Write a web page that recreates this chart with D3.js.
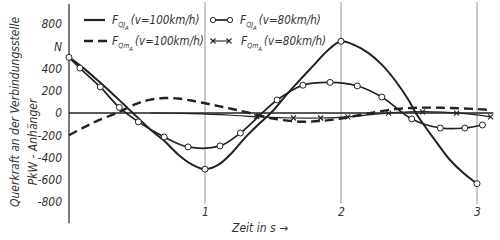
<!DOCTYPE html>
<html>
<head>
<meta charset="utf-8">
<script src="https://cdn.jsdelivr.net/npm/d3@7"></script>
<style>
  body { margin: 0; background: #fff; }
  svg { display: block; }
  text { font-family: "DejaVu Sans Condensed", "Liberation Sans Narrow", sans-serif; font-style: italic; fill: #333; }
</style>
</head>
<body>
<svg id="chart" width="500" height="240"></svg>
<script>
// F_QJA, v = 100 km/h (thick solid)
var qj100 = [
  [0, 500], [0.1, 410], [0.2, 305], [0.3, 195], [0.4, 80], [0.47, 0], [0.6, -150],
  [0.7, -250], [0.8, -370], [0.9, -460], [1.0, -505], [1.1, -465], [1.2, -355],
  [1.3, -215], [1.4, -95], [1.5, 20], [1.6, 165], [1.7, 300], [1.8, 430],
  [1.9, 560], [2.0, 645], [2.1, 610], [2.2, 540], [2.3, 435], [2.4, 290],
  [2.5, 110], [2.55, 0], [2.6, -90], [2.7, -260], [2.8, -420], [2.9, -540], [3.0, -635]
];
var qj100Marks = [1, 2, 3];

// F_QJA, v = 80 km/h (solid with circles)
var qj80 = [
  [0, 500], [0.08, 404], [0.23, 234], [0.37, 50], [0.51, -80], [0.7, -216],
  [0.875, -305], [1.11, -296], [1.26, -180], [1.53, 117], [1.72, 250],
  [1.92, 275], [2.12, 243], [2.3, 144], [2.52, -54], [2.73, -135],
  [2.91, -135], [3.04, -108]
];

// F_QmA, v = 100 km/h (dashed)
var qm100 = [
  [0, -200], [0.1, -135], [0.2, -75], [0.35, 0], [0.5, 85], [0.6, 120],
  [0.7, 135], [0.8, 130], [0.9, 112], [1.0, 88], [1.1, 62], [1.2, 36],
  [1.33, 0], [1.5, -50], [1.7, -78], [1.85, -72], [2.0, -50], [2.2, -5],
  [2.4, 35], [2.6, 48], [2.8, 45], [3.0, 35], [3.08, 28]
];

// F_QmA, v = 80 km/h (thin solid with crosses)
var qm80 = [
  [0.6, 0], [0.9, -5], [1.2, -20], [1.4, -35], [1.65, -45], [1.85, -45],
  [2.05, -35], [2.3, -5], [2.5, 10], [2.75, 8], [2.95, -10], [3.1, -35]
];
var qm80Marks = [1.38, 1.65, 1.85, 2.05, 2.35, 2.6, 2.85, 3.1];

var yTicks = [800, 600, 400, 200, 0, -200, -400, -600, -800];
var yTickLabels = ["800", "N", "400", "200", "0", "-200", "-400", "-600", "-800"];
var xTicks = [1, 2, 3];

var svg = d3.select("#chart");
var x = d3.scaleLinear().domain([0, 3]).range([69, 477]);
var y = d3.scaleLinear().domain([-800, 800]).range([202, 24]);
var ink = "#222";

// grid lines at full seconds
svg.selectAll(".vgrid").data(xTicks).enter().append("line")
  .attr("x1", d => x(d)).attr("x2", d => x(d))
  .attr("y1", y(1000)).attr("y2", y(-815))
  .attr("stroke", "#777").attr("stroke-width", 0.8);

// zero line and y axis line
svg.append("line").attr("x1", x(0)).attr("x2", x(3.12)).attr("y1", y(0)).attr("y2", y(0))
  .attr("stroke", ink).attr("stroke-width", 1.3);
svg.append("line").attr("x1", x(0)).attr("x2", x(0)).attr("y1", y(980)).attr("y2", y(-990))
  .attr("stroke", ink).attr("stroke-width", 1.2);

// y axis labels
var yAxis = d3.axisLeft(y).tickValues(yTicks).tickSize(0).tickPadding(7)
  .tickFormat((d, i) => yTickLabels[i]);
var ya = svg.append("g").attr("transform", "translate(" + x(0) + ",0)").call(yAxis);
ya.select(".domain").remove();
ya.selectAll("text").attr("font-size", 12).attr("font-family", null).attr("fill", "#444");

// x axis labels
var xAxis = d3.axisBottom(x).tickValues(xTicks).tickSize(0).tickPadding(0).tickFormat(d3.format("d"));
var xa = svg.append("g").attr("transform", "translate(0,207)").call(xAxis);
xa.select(".domain").remove();
xa.selectAll("text").attr("font-size", 12).attr("font-family", null).attr("fill", "#444");

// axis titles
svg.append("text").attr("transform", "translate(19,112) rotate(-90)")
  .attr("text-anchor", "middle").attr("font-size", 12).attr("fill", "#444")
  .text("Querkraft an der Verbindungsstelle");
svg.append("text").attr("transform", "translate(37,142) rotate(-90)")
  .attr("text-anchor", "middle").attr("font-size", 12).attr("fill", "#444")
  .text("PkW - Anhänger");
svg.append("text").attr("x", 232).attr("y", 232).attr("font-size", 12).attr("fill", "#444")
  .text("Zeit in s \u2192");

var line = d3.line().x(d => x(d[0])).y(d => y(d[1])).curve(d3.curveCatmullRom.alpha(0.5));

svg.append("path").datum(qm100).attr("d", line).attr("fill", "none")
  .attr("stroke", ink).attr("stroke-width", 2.4).attr("stroke-dasharray", "9,5");
svg.append("path").datum(qm80).attr("d", line).attr("fill", "none")
  .attr("stroke", ink).attr("stroke-width", 1.2);
svg.append("path").datum(qj100).attr("d", line).attr("fill", "none")
  .attr("stroke", ink).attr("stroke-width", 2);
svg.append("path").datum(qj80).attr("d", line).attr("fill", "none")
  .attr("stroke", ink).attr("stroke-width", 1.7);

// crosses on the v=80 mass curve
var qm80Interp = t => {
  for (var i = 1; i < qm80.length; i++) {
    if (t <= qm80[i][0]) {
      var a = qm80[i - 1], b = qm80[i], f = (t - a[0]) / (b[0] - a[0]);
      return a[1] + f * (b[1] - a[1]);
    }
  }
  return qm80[qm80.length - 1][1];
};
function cross(g, cx, cy) {
  g.append("path").attr("d", "M" + (cx - 2.5) + "," + (cy - 2.5) + "l5,5M" + (cx - 2.5) + "," + (cy + 2.5) + "l5,-5")
    .attr("stroke", ink).attr("stroke-width", 1.1);
}
qm80Marks.forEach(t => cross(svg, x(t), y(qm80Interp(t))));

// circles
var qj100Pts = qj100.filter(d => qj100Marks.indexOf(d[0]) >= 0);
svg.selectAll(".c1").data(qj80.concat(qj100Pts)).enter().append("circle")
  .attr("cx", d => x(d[0])).attr("cy", d => y(d[1])).attr("r", 3)
  .attr("fill", "#fff").attr("stroke", ink).attr("stroke-width", 1);

// legend
var lg = svg.append("g");
lg.append("line").attr("x1", 84).attr("x2", 105).attr("y1", 20).attr("y2", 20)
  .attr("stroke", ink).attr("stroke-width", 2.2);
lg.append("line").attr("x1", 84).attr("x2", 107).attr("y1", 41).attr("y2", 41)
  .attr("stroke", ink).attr("stroke-width", 2.4).attr("stroke-dasharray", "9,5");
lg.append("line").attr("x1", 213).attr("x2", 230).attr("y1", 20).attr("y2", 20)
  .attr("stroke", ink).attr("stroke-width", 1.7);
[213, 230].forEach(cx => lg.append("circle").attr("cx", cx).attr("cy", 20).attr("r", 2.6)
  .attr("fill", "#fff").attr("stroke", ink));
lg.append("line").attr("x1", 213).attr("x2", 229).attr("y1", 41).attr("y2", 41)
  .attr("stroke", ink).attr("stroke-width", 1.1);
cross(lg, 213, 41); cross(lg, 229, 41);

function label(lx, ly, sub, px, txt) {
  var t = lg.append("text").attr("x", lx).attr("y", ly).attr("font-size", 12).attr("fill", "#333");
  t.append("tspan").text("F");
  t.append("tspan").attr("dy", 2.5).attr("font-size", 7).text(sub);
  t.append("tspan").attr("dy", 3).attr("font-size", 6).text("A");
  var end = lx + t.node().getComputedTextLength() + 2;
  lg.append("text").attr("x", Math.max(px, end)).attr("y", ly).attr("font-size", 11.5)
    .attr("fill", "#333").text(txt);
}
label(112, 24, "QJ", 128, "(v=100km/h)");
label(112, 45, "Qm", 128, "(v=100km/h)");
label(240, 24, "QJ", 254, "(v=80km/h)");
label(241, 45, "Qm", 258, "(v=80km/h)");
</script>
</body>
</html>
